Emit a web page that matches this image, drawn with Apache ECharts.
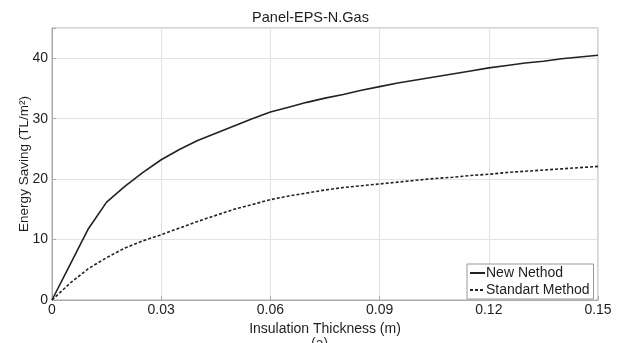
<!DOCTYPE html>
<html>
<head>
<meta charset="utf-8">
<script src="https://cdn.jsdelivr.net/npm/echarts@6/dist/echarts.min.js"></script>
<style>html,body{margin:0;padding:0;background:#fff}#c{width:621px;height:343px}</style>
</head>
<body>
<div id="c"></div>
<script>
const thickness = [0,0.005,0.01,0.015,0.02,0.025,0.03,0.035,0.04,0.045,0.05,0.055,0.06,0.065,0.07,0.075,0.08,0.085,0.09,0.095,0.1,0.105,0.11,0.115,0.12,0.125,0.13,0.135,0.14,0.145,0.15];
const newMethod = [0,5.9,11.8,16.2,18.8,21.1,23.2,24.9,26.4,27.6,28.8,30.0,31.1,31.9,32.7,33.4,34.0,34.7,35.3,35.9,36.4,36.9,37.4,37.9,38.4,38.8,39.2,39.5,39.9,40.2,40.5];
const standardMethod = [0,2.8,5.2,7.0,8.6,9.8,10.8,11.9,13.0,14.0,15.0,15.8,16.6,17.2,17.7,18.2,18.6,18.9,19.2,19.5,19.8,20.1,20.3,20.6,20.8,21.1,21.3,21.5,21.7,21.9,22.1];
const xTicks = [0,0.03,0.06,0.09,0.12,0.15];
const seriesNames = ['New Nethod','Standart Method'];

const chart = echarts.init(document.getElementById('c'));
const font = 'Liberation Sans, Arial, sans-serif';
const txt = '#1e1e1e';
chart.setOption({
  animation:false,
  backgroundColor:'#fff',
  title:{text:'Panel-EPS-N.Gas',left:'center',top:5,textStyle:{fontFamily:font,fontSize:14.5,fontWeight:'normal',color:txt}},
  grid:{left:52,right:23,top:28,bottom:43,show:true,borderColor:'#aaa',borderWidth:1},
  legend:{
    left:467, top:264, orient:'vertical', itemGap:3, itemWidth:15, itemHeight:8,
    padding:[2,4,2,2], borderColor:'#999', borderWidth:1, backgroundColor:'#fff',
    itemStyle:{opacity:0},
    textStyle:{fontFamily:font,fontSize:14,color:txt,padding:[0,0,0,-4]},
    data:seriesNames
  },
  xAxis:{type:'value',min:0,max:0.15,interval:0.03,
    name:'Insulation Thickness (m)',nameLocation:'middle',nameGap:22,nameMoveOverlap:false,
    nameTextStyle:{fontFamily:font,fontSize:14,color:txt},
    axisLine:{lineStyle:{color:'#aaa'}},axisTick:{inside:true,length:4,lineStyle:{color:'#aaa'}},
    axisLabel:{fontFamily:font,fontSize:14,color:txt,margin:3,
      formatter:v=>{const t=xTicks.find(x=>Math.abs(x-v)<1e-9);return t===0?'0':t.toFixed(2);}},
    splitLine:{lineStyle:{color:'#e2e2e2'}}},
  yAxis:{type:'value',min:0,max:45,interval:10,
    name:'Energy Saving (TL/m²)',nameLocation:'middle',nameGap:21,nameMoveOverlap:false,
    nameTextStyle:{fontFamily:font,fontSize:13.5,color:txt},
    axisLine:{lineStyle:{color:'#aaa'}},axisTick:{inside:true,length:4,lineStyle:{color:'#aaa'}},
    axisLabel:{fontFamily:font,fontSize:14,color:txt,margin:4,
      formatter:v=>v%10===0?String(v):''},
    splitLine:{lineStyle:{color:'#e2e2e2'}}},
  graphic:[{type:'text',left:311,top:337,style:{text:'(a)',fontFamily:font,fontSize:14,fill:'#333'}}],
  series:[
    {name:seriesNames[0],type:'line',symbol:'none',smooth:false,
     data:thickness.map((x,i)=>[x,newMethod[i]]),lineStyle:{color:'#222',width:1.6,type:'solid'},itemStyle:{color:'#222'}},
    {name:seriesNames[1],type:'line',symbol:'none',smooth:false,
     data:thickness.map((x,i)=>[x,standardMethod[i]]),lineStyle:{color:'#222',width:1.6,type:[3,2]},itemStyle:{color:'#222'}}
  ]
});
</script>
</body>
</html>
